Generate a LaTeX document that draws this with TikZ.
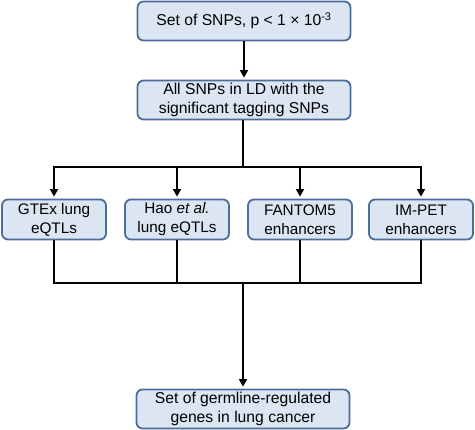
\documentclass[tikz,border=0pt]{standalone}
\usepackage{fontspec}
\setmainfont{Liberation Sans}
\usetikzlibrary{arrows.meta}
\definecolor{boxfill}{HTML}{DCE6F2}
\definecolor{boxline}{HTML}{4A6D9B}
\begin{document}
\begin{tikzpicture}[x=1pt,y=-1pt,
  bigbox/.style={draw=boxline,fill=boxfill,line width=1.8pt,rounded corners=6pt,
    minimum width=213pt,minimum height=39pt,inner sep=0pt,align=center,
    font=\fontsize{15.7}{19}\selectfont},
  smallbox/.style={bigbox,minimum width=104pt,minimum height=40pt,
    font=\fontsize{15.3}{19}\selectfont},
  conn/.style={line width=1.6pt,black},
  arr/.style={conn,-{Triangle[length=7.5pt,width=8pt]},shorten >=2pt}]
\useasboundingbox (0,0) rectangle (475,430);
\node[bigbox] (n1) at (244,21) {Set of SNPs, p < 1 × 10\textsuperscript{-3}};
\node[bigbox] (n2) at (244,100) {All SNPs in LD with the\\significant tagging SNPs};
\node[smallbox] (a) at (54,219.5) {GTEx lung\\eQTLs};
\node[smallbox] (b) at (177,219.5) {Hao \textit{et al.}\\lung eQTLs};
\node[smallbox] (c) at (300,219.5) {FANTOM5\\enhancers};
\node[smallbox] (d) at (421,219.5) {IM-PET\\enhancers};
\node[bigbox] (e) at (243,409) {Set of germline-regulated\\genes in lung cancer};
\coordinate (top) at (243,167);
\coordinate (bot) at (243,283);
\draw[arr] (n1.south) -- (n2.north);
\draw[conn] (n2.south -| top) -- (top);
\draw[arr] (top) -| (a.north);
\draw[arr] (top) -| (b.north);
\draw[arr] (top) -| (c.north);
\draw[arr] (top) -| (d.north);
\draw[conn] (a.south) |- (bot);
\draw[conn] (b.south) |- (bot);
\draw[conn] (c.south) |- (bot);
\draw[conn] (d.south) |- (bot);
\draw[arr] (bot) -- (e.north);
\end{tikzpicture}
\end{document}
